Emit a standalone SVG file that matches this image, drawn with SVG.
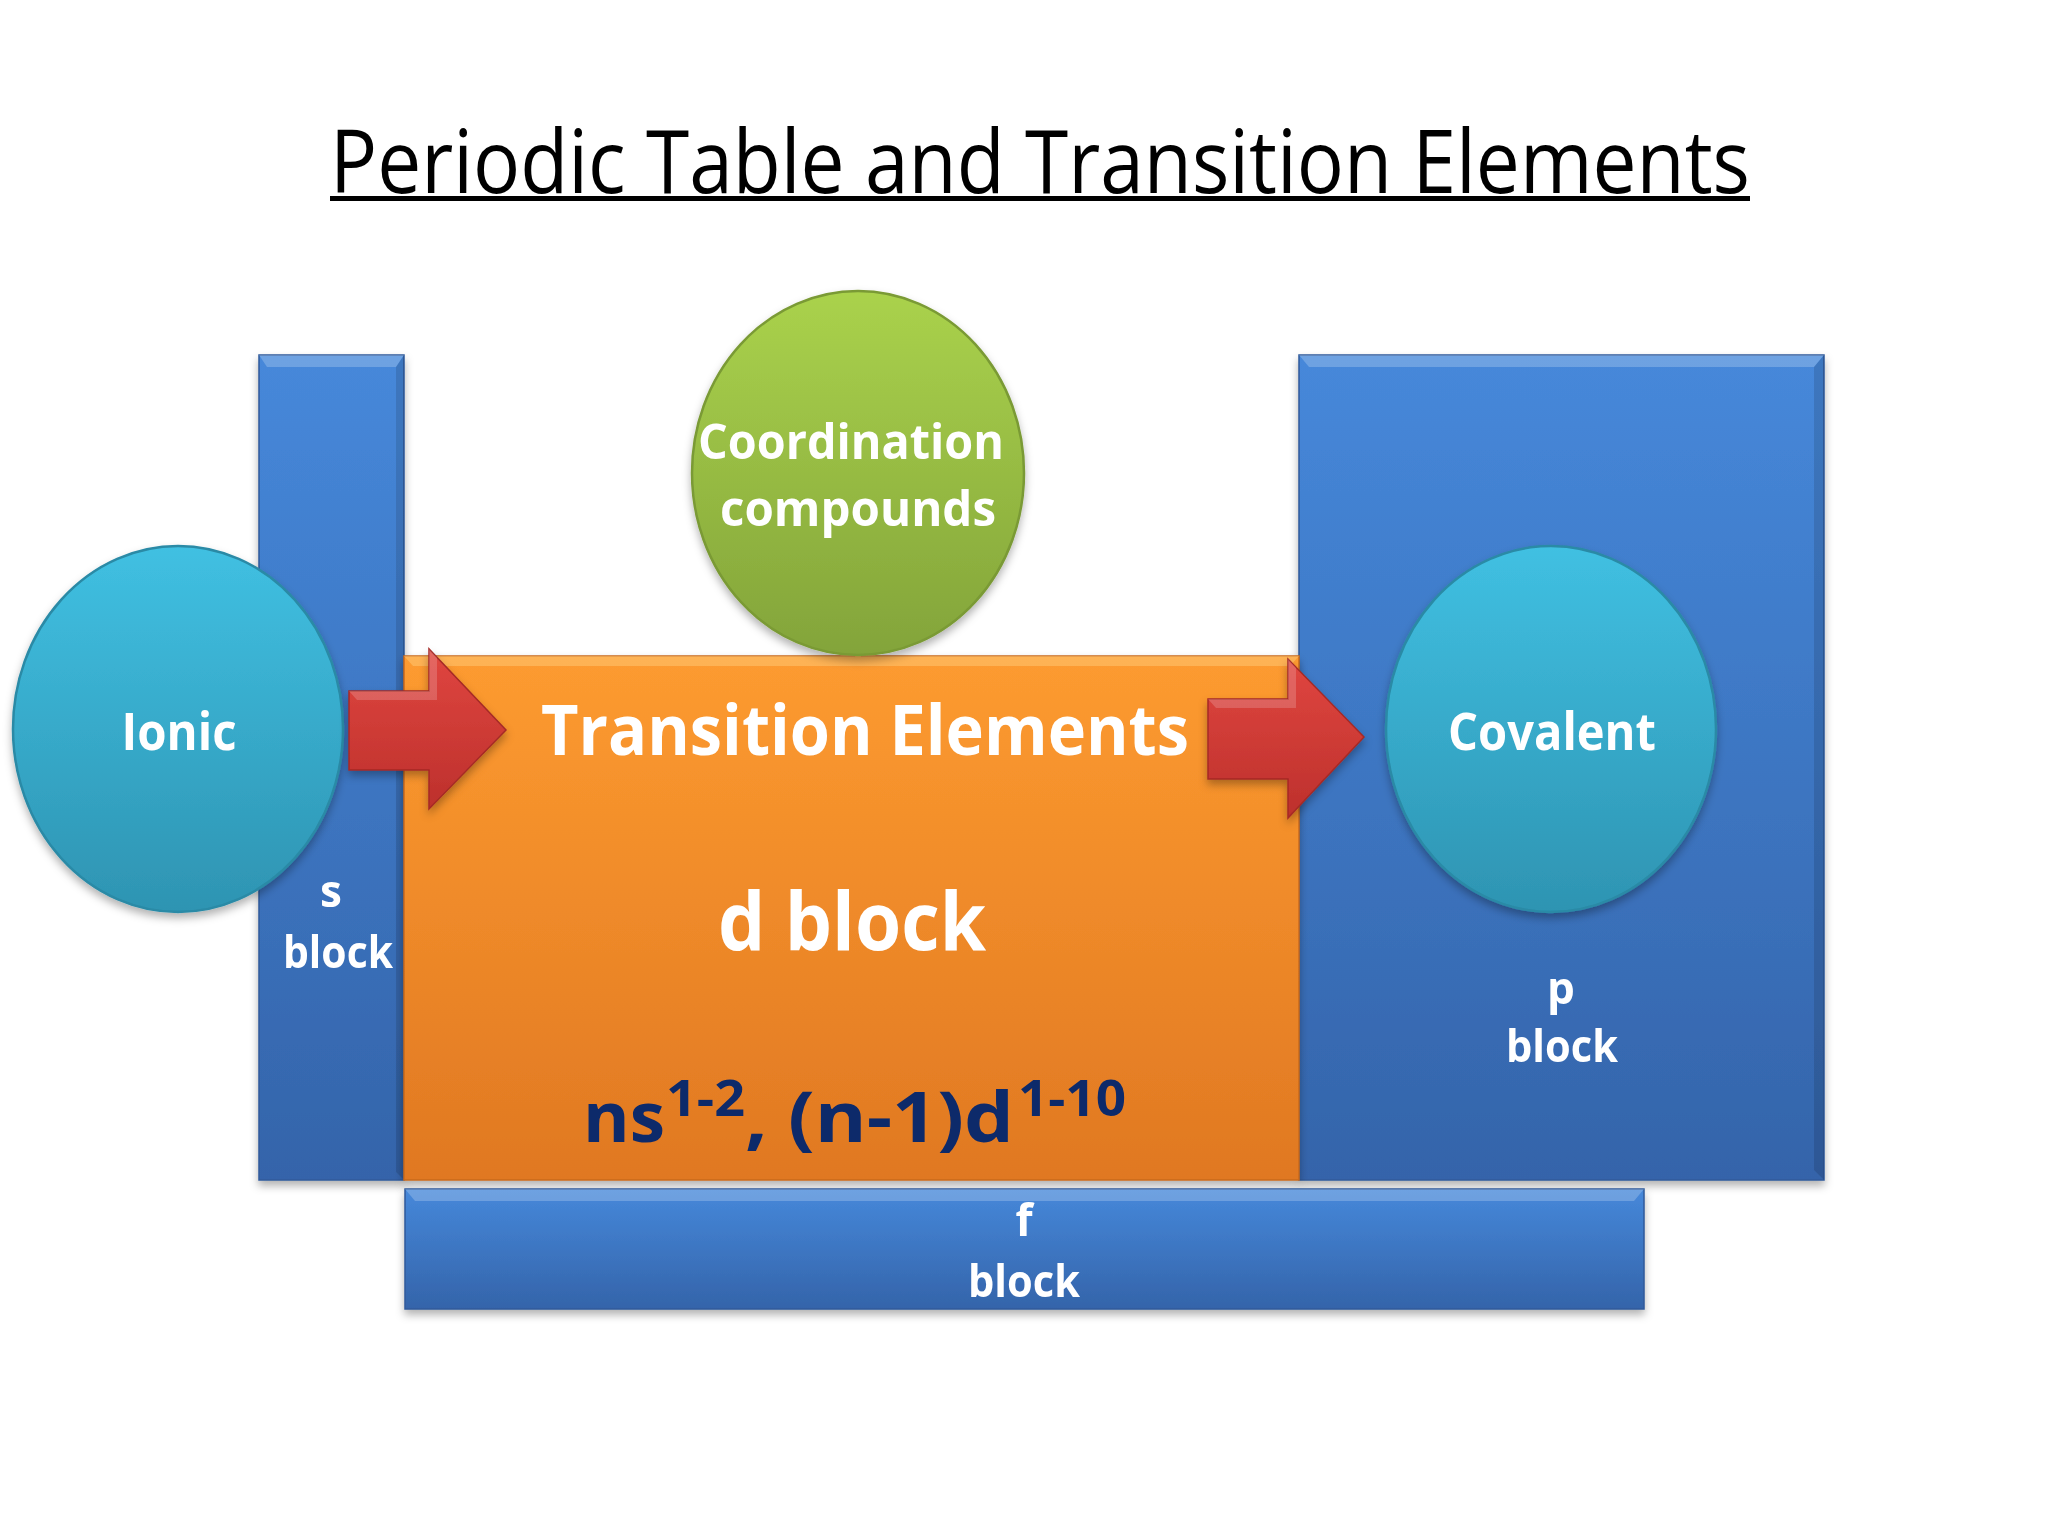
<svg xmlns="http://www.w3.org/2000/svg" width="2048" height="1536" viewBox="0 0 2048 1536">
<defs>
<linearGradient id="gBlue" x1="0" y1="0" x2="0" y2="1"><stop offset="0" stop-color="#4688da"/><stop offset="1" stop-color="#3464aa"/></linearGradient>
<linearGradient id="gOrange" x1="0" y1="0" x2="0" y2="1"><stop offset="0" stop-color="#fd9b30"/><stop offset="1" stop-color="#e07822"/></linearGradient>
<linearGradient id="gGreen" x1="0" y1="0" x2="0" y2="1"><stop offset="0" stop-color="#aad24c"/><stop offset="1" stop-color="#83a43a"/></linearGradient>
<linearGradient id="gCyan" x1="0" y1="0" x2="0" y2="1"><stop offset="0" stop-color="#40c0e2"/><stop offset="1" stop-color="#2e94b2"/></linearGradient>
<linearGradient id="gRed" x1="0" y1="0" x2="0" y2="1"><stop offset="0" stop-color="#e04640"/><stop offset="1" stop-color="#bd302c"/></linearGradient>
<filter id="sh" x="-10%" y="-10%" width="120%" height="125%"><feDropShadow dx="0" dy="5" stdDeviation="4" flood-color="#000" flood-opacity="0.3"/></filter>
</defs>
<style>
.blk{fill:url(#gBlue);stroke:#2f5a9a;stroke-width:1.5}
.hi{fill:#ffffff;opacity:0.22}
.lo{fill:#000000;opacity:0.12}
.circ{fill:url(#gCyan);stroke:#2a8aa6;stroke-width:2.5}
.arrow{fill:url(#gRed);stroke:#a52a26;stroke-width:1.5}
.lbl{font-family:"Open Sans","Liberation Sans",sans-serif;font-weight:bold;fill:#ffffff;text-anchor:middle}
.title{font-family:"Open Sans","Liberation Sans",sans-serif;font-size:87px;fill:#000000;text-anchor:middle}
.cfg{font-family:"Open Sans","Liberation Sans",sans-serif;font-weight:bold;fill:#0e2a6b}
</style>
<rect x="0" y="0" width="2048" height="1536" fill="#ffffff"/>

<g id="title">
<text class="title" x="1040" y="193" textLength="1420" lengthAdjust="spacingAndGlyphs">Periodic Table and Transition Elements</text>
<rect x="330" y="196" width="1420" height="5" fill="#000000"/>
</g>

<g id="s-block" filter="url(#sh)">
<rect class="blk" x="259" y="355" width="145" height="825"/>
<polygon class="hi" points="259,355 404,355 396,367 267,367"/>
<polygon class="lo" points="404,355 404,1180 396,1172 396,367"/>
<text class="lbl" x="331" y="907" font-size="44">s</text>
<text class="lbl" x="338" y="968" font-size="44" textLength="110" lengthAdjust="spacingAndGlyphs">block</text>
</g>

<g id="p-block" filter="url(#sh)">
<rect class="blk" x="1299" y="355" width="525" height="825"/>
<polygon class="hi" points="1299,355 1824,355 1814,367 1309,367"/>
<polygon class="lo" points="1824,355 1824,1180 1814,1170 1814,367"/>
<text class="lbl" x="1561" y="1004" font-size="44">p</text>
<text class="lbl" x="1562" y="1062" font-size="44" textLength="112" lengthAdjust="spacingAndGlyphs">block</text>
</g>

<g id="d-block" filter="url(#sh)">
<rect x="404" y="656" width="895" height="524" fill="url(#gOrange)" stroke="#c96a1e" stroke-width="1.5"/>
<polygon points="404,656 1299,656 1290,666 413,666" fill="#ffd080" opacity="0.45"/>
<text class="lbl" x="865" y="755" font-size="70" textLength="648" lengthAdjust="spacingAndGlyphs">Transition Elements</text>
<text class="lbl" x="852" y="950" font-size="80" textLength="268" lengthAdjust="spacingAndGlyphs">d block</text>
<text class="cfg" x="583" y="1142" font-size="70" textLength="82" lengthAdjust="spacingAndGlyphs">ns</text>
<text class="cfg" x="666" y="1116" font-size="50" textLength="79" lengthAdjust="spacingAndGlyphs">1-2</text>
<text class="cfg" x="745" y="1142" font-size="70" textLength="269" lengthAdjust="spacingAndGlyphs">, (n-1)d</text>
<text class="cfg" x="1018" y="1116" font-size="50" textLength="108" lengthAdjust="spacingAndGlyphs">1-10</text>
</g>

<g id="f-block" filter="url(#sh)">
<rect class="blk" x="405" y="1189" width="1239" height="120"/>
<polygon class="hi" points="405,1189 1644,1189 1634,1201 415,1201"/>
<text class="lbl" x="1024" y="1236" font-size="44">f</text>
<text class="lbl" x="1024" y="1297" font-size="44" textLength="112" lengthAdjust="spacingAndGlyphs">block</text>
</g>

<g id="coordination" filter="url(#sh)">
<ellipse cx="858" cy="473" rx="166" ry="182" fill="url(#gGreen)" stroke="#7a9a34" stroke-width="2.5"/>
<text class="lbl" x="851" y="459" font-size="48" textLength="306" lengthAdjust="spacingAndGlyphs">Coordination</text>
<text class="lbl" x="858" y="526" font-size="48" textLength="276" lengthAdjust="spacingAndGlyphs">compounds</text>
</g>

<g id="ionic" filter="url(#sh)">
<ellipse class="circ" cx="178" cy="729" rx="165" ry="183"/>
<text class="lbl" x="179" y="750" font-size="52" textLength="115" lengthAdjust="spacingAndGlyphs">Ionic</text>
</g>

<g id="covalent" filter="url(#sh)">
<ellipse class="circ" cx="1551" cy="729" rx="165" ry="183"/>
<text class="lbl" x="1552" y="750" font-size="52" textLength="208" lengthAdjust="spacingAndGlyphs">Covalent</text>
</g>

<g id="connectors" filter="url(#sh)">
<polygon class="arrow" points="349,691 429,691 429,649 506,730 429,809 429,770 349,770"/>
<polygon points="349,691 429,691 429,649 437,658 437,700 357,700" fill="#ffffff" opacity="0.18"/>
<polygon class="arrow" points="1208,699 1288,699 1288,659 1364,737 1288,818 1288,779 1208,779"/>
<polygon points="1208,699 1288,699 1288,659 1296,668 1296,708 1216,708" fill="#ffffff" opacity="0.18"/>
</g>
</svg>
